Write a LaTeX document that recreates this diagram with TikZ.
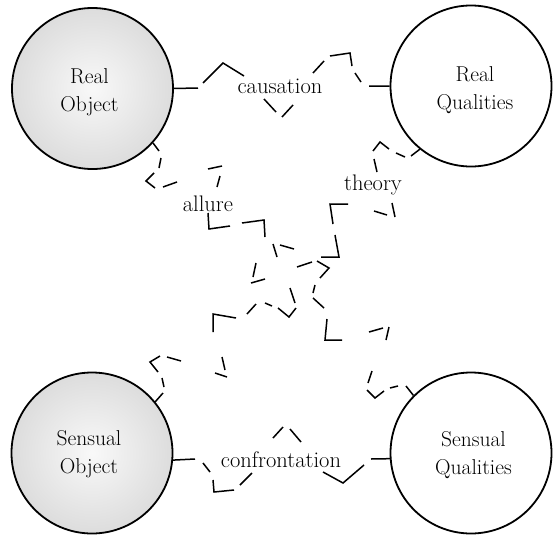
\documentclass[tikz,border=0pt]{standalone}
\begin{document}
\begin{tikzpicture}[x=1pt,y=-1pt,
  obj/.style={circle, draw=black, line width=1.8pt, minimum size=161pt, inner sep=0pt},
  grayobj/.style={obj, inner color=gray!5, outer color=gray!27},
  qual/.style={obj, fill=white},
  txt/.style={align=center, font=\fontsize{21.5}{28}\selectfont},
  lbl/.style={anchor=base, inner sep=0pt, font=\fontsize{22.5}{24}\selectfont},
  seg/.style={line width=1.5pt}]
\fill[white] (0,0) rectangle (553,535);
\useasboundingbox (0,0) rectangle (553,535);

\node[grayobj, label={[txt, xshift=-3pt, yshift=-4pt]center:Real\\Object}] (ro) at (92.5,88.5) {};
\node[qual, label={[txt, xshift=4pt, yshift=-4pt]center:Real\\Qualities}] (rq) at (471,86) {};
\node[grayobj, label={[txt, xshift=-3pt, yshift=-1pt]center:Sensual\\Object}] (so) at (92,453) {};
\node[qual, label={[txt, xshift=2.5pt, yshift=-2pt]center:Sensual\\Qualities}] (sq) at (471,453) {};

\node[lbl] (lc) at (280,93) {causation};
\node[lbl] (lf) at (281,467) {confrontation};
\node[lbl] (la) at (208,211) {allure};
\node[lbl] (lt) at (373,190) {theory};

% causation
\draw[seg] (ro.east) -- (198,88)
  (203,83) -- (223,63) -- (244,76)
  (264,99) -- (276,112)
  (282,117) -- (293,105)
  (313,73) -- (324,61)
  (330,56) -- (350,53) -- (352,66)
  (355,73) -- (361,82)
  (369,86) -- (rq.west);

% confrontation
\draw[seg] (so.-5) -- (195,459)
  (203,463) -- (210,472)
  (213,480) -- (214,492) -- (234,490)
  (240,485) -- (252,473)
  (273,438) -- (283,427)
  (290,429) -- (301,442)
  (323,472) -- (343,483) -- (364,465)
  (371,459) -- (sq.184);

% allure
\draw[seg] (ro.-42) -- (159,151)
  (161,158) -- (159,168)
  (154,173) -- (146,181) -- (155,188)
  (163,187) -- (177,182)
  (208,169) -- (222,166)
  (220,176) -- (217,187)
  (208,213) -- (209,229) -- (230,226)
  (242,223) -- (264,220) -- (265,237)
  (273,244) -- (277,257)
  (280,245) -- (294,249)
  (317,261) -- (329,268) -- (320,278)
  (315,285) -- (313,293)
  (313,298) -- (324,308)
  (327,319) -- (325,340) -- (342,340)
  (369,332) -- (383,328)
  (389,327) -- (386,340)
  (372,371) -- (368,383)
  (367,390) -- (375,398) -- (384,391)
  (390,388) -- (398,386)
  (406,386) -- (sq.135);

% theory
\draw[seg] (rq.-129) -- (411,156)
  (405,157) -- (396,153)
  (389,149) -- (380,142) -- (373,151)
  (374,159) -- (377,172)
  (395,217) -- (392,203)
  (387,215) -- (374,211)
  (348,204) -- (330,204) -- (333,224)
  (335,235) -- (339,257) -- (321,257)
  (312,262) -- (297,267)
  (256,263) -- (253,277)
  (251,283) -- (265,279)
  (290,288) -- (295,303)
  (272,306) -- (265,303)
  (256,304) -- (247,314)
  (278,308) -- (289,317) -- (296,308)
  (236,318) -- (213,314) -- (213,332)
  (222,357) -- (225,370)
  (227,377) -- (215,373)
  (181,361) -- (167,357)
  (160,356) -- (150,362) -- (158,372)
  (162,378) -- (164,387)
  (163,393) -- (so.39);
\end{tikzpicture}
\end{document}
